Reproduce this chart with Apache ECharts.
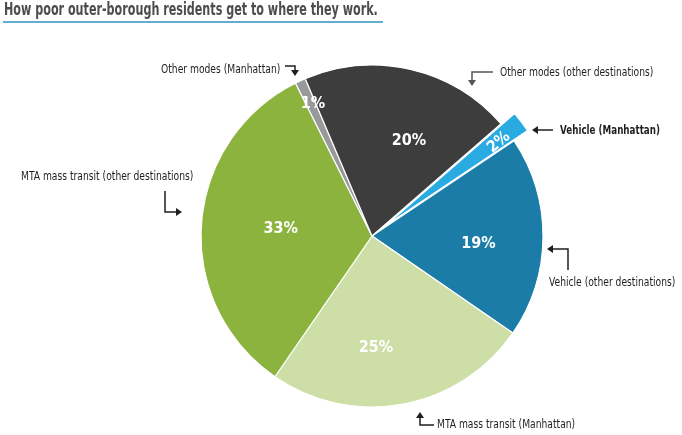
<!DOCTYPE html>
<html>
<head>
<meta charset="utf-8">
<script src="https://cdn.jsdelivr.net/npm/echarts@6/dist/echarts.min.js"></script>
<style>
html,body{margin:0;padding:0;background:#fff;}
#chart{width:682px;height:435px;}
</style>
</head>
<body>
<div id="chart"></div>
<script>
// data
var modeNames = ['Vehicle (Manhattan)', 'Vehicle (other destinations)', 'MTA mass transit (Manhattan)',
	'MTA mass transit (other destinations)', 'Other modes (Manhattan)', 'Other modes (other destinations)'];
var modeShares = [2, 19, 25, 33, 1, 20];
var modeColors = ['#29abe2', '#1b7ca8', '#cddfa6', '#8cb33e', '#98999b', '#3d3d3d'];

var narrow = '"Liberation Sans Narrow", "DejaVu Sans Condensed", "Liberation Sans", sans-serif';

// nudges for the percent labels inside the slices (first one is in its rotated frame)
var labelNudge = [[52, 5], [18, 7], [-12, 25], [-3, -1], [-22, -52], [17, -9]];

var chart = echarts.init(document.getElementById('chart'));

var pieData = [];
for (var i = 0; i < modeShares.length; i++) {
	var item = {
		name: modeNames[i],
		value: modeShares[i],
		itemStyle: { color: modeColors[i] }
	};
	if (i == 0) {
		item.selected = true;
		item.label = { rotate: 40 };
	}
	pieData.push(item);
}

// callout arrow: elbow polyline + head
function arrow(points, headDir, color) {
	var p = points[points.length - 1];
	var s = 4, h;
	if (headDir == 'down') h = [[p[0] - s, p[1] - 6], [p[0] + s, p[1] - 6], [p[0], p[1]]];
	if (headDir == 'up') h = [[p[0] - s, p[1] + 6], [p[0] + s, p[1] + 6], [p[0], p[1]]];
	if (headDir == 'left') h = [[p[0] + 6, p[1] - s], [p[0] + 6, p[1] + s], [p[0], p[1]]];
	if (headDir == 'right') h = [[p[0] - 6, p[1] - s], [p[0] - 6, p[1] + s], [p[0], p[1]]];
	var line = points.slice(0, points.length - 1);
	var last = headDir == 'down' ? [p[0], p[1] - 5] : headDir == 'up' ? [p[0], p[1] + 5] :
		headDir == 'left' ? [p[0] + 5, p[1]] : [p[0] - 5, p[1]];
	line.push(last);
	return [
		{ type: 'polyline', shape: { points: line }, style: { stroke: color, lineWidth: 1.5, fill: null } },
		{ type: 'polygon', shape: { points: h }, style: { fill: color } }
	];
}

// no condensed face installed, so squeeze the text horizontally
function callout(text, x, y, bold) {
	return {
		type: 'text', x: x, y: y,
		scaleX: bold ? 0.81 : 0.85,
		style: {
			text: text, fill: '#1f1f1f', font: (bold ? 'bold ' : '') + '12px ' + narrow,
			verticalAlign: 'middle'
		}
	};
}

var graphics = [
	{
		type: 'text', x: 4, y: 11, scaleX: 0.73,
		style: { text: 'How poor outer-borough residents get to where they work.', fill: '#4d4d4d',
			font: 'bold 17px ' + narrow, verticalAlign: 'middle' }
	},
	{ type: 'line', shape: { x1: 3, y1: 22, x2: 383, y2: 22 }, style: { stroke: '#2c93c4', lineWidth: 1.5 } },
	callout(modeNames[5], 500, 73, false),
	callout(modeNames[0], 560, 131, true),
	callout(modeNames[4], 161, 70, false),
	callout(modeNames[3], 21, 177, false),
	callout(modeNames[1], 549, 283, false),
	callout(modeNames[2], 437, 425, false)
];
graphics = graphics
	.concat(arrow([[493, 72], [472, 72], [472, 86]], 'down', '#555'))
	.concat(arrow([[553, 130], [532, 130]], 'left', '#1f1f1f'))
	.concat(arrow([[285, 66], [295, 66], [295, 76]], 'down', '#1f1f1f'))
	.concat(arrow([[165, 191], [165, 212], [182, 212]], 'right', '#1f1f1f'))
	.concat(arrow([[568, 270], [568, 249], [547, 249]], 'left', '#1f1f1f'))
	.concat(arrow([[434, 425], [420, 425], [420, 412]], 'up', '#1f1f1f'));

var option = {
	animation: false,
	graphic: graphics,
	series: [
		{
			type: 'pie',
			center: [372, 236],
			radius: [0, 171],
			startAngle: 41,
			clockwise: true,
			selectedMode: 'single',
			selectedOffset: 17,
			silent: true,
			itemStyle: { borderColor: '#fff', borderWidth: 1.2 },
			label: {
				show: true,
				position: 'inside',
				formatter: '{c}%',
				color: '#fff',
				fontFamily: narrow,
				fontWeight: 'bold',
				fontSize: 16
			},
			labelLine: { show: false },
			labelLayout: function (params) {
				var n = labelNudge[params.dataIndex];
				return { dx: n[0], dy: n[1] };
			},
			emphasis: { disabled: true },
			data: pieData
		}
	]
};
chart.setOption(option);
</script>
</body>
</html>
